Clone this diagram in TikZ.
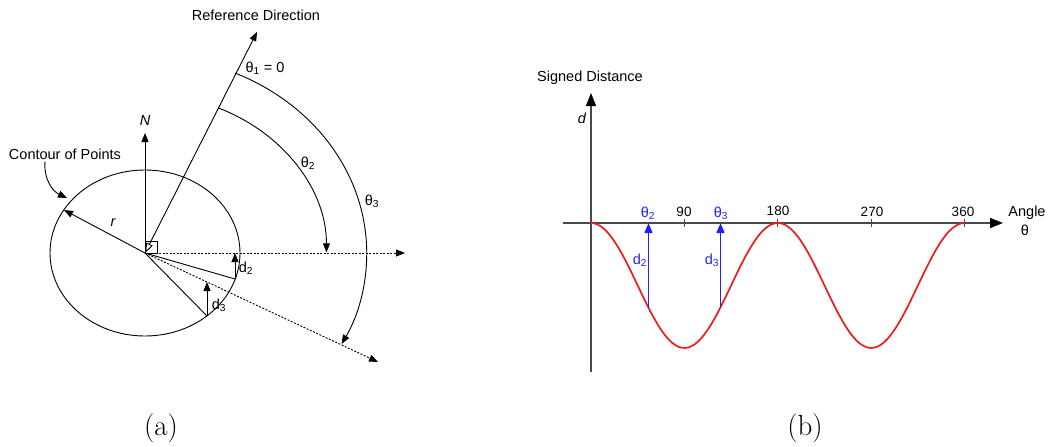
\documentclass[tikz,border=0pt]{standalone}
\usepackage{fontspec}
\usepackage{xcolor}
\usepackage{tikz}
\usetikzlibrary{arrows.meta,positioning,calc}
\newfontfamily\lblfont{Liberation Sans}
\definecolor{axisgray}{HTML}{4A4A4A}
\definecolor{curvered}{HTML}{EE1C1C}
\definecolor{markblue}{RGB}{32,32,255}

\begin{document}
\begin{tikzpicture}[
    x=1pt, y=-1pt,
    font=\lblfont\fontsize{14.5}{16}\selectfont,
    lbl/.style={inner sep=1pt},
    num/.style={inner sep=1pt, font=\lblfont\fontsize{13.5}{15}\selectfont},
    captext/.style={inner sep=0pt, font=\fontsize{29}{31}\selectfont},
    thin line/.style={line width=0.9pt},
    arr/.style={-{Triangle[length=9pt,width=7pt]}, line width=0.9pt},
    dotarr/.style={-{Triangle[length=9pt,width=7pt]}, line width=0.9pt, dash pattern=on 2pt off 1.5pt},
    axis/.style={-{Triangle[length=13pt,width=10pt,color=black]}, line width=1.4pt, draw=axisgray},
    blarr/.style={-{Triangle[length=10pt,width=8pt]}, line width=1.4pt, draw=markblue, fill=markblue}
]
\useasboundingbox (0,0) rectangle (1053,447);

% (a) contour and directions
\coordinate (O) at (145,253);
\coordinate (refend) at (257,32);
\coordinate (north) at (145,133);
\coordinate (east) at (405,253);
\coordinate (dir3) at (378,362);
\coordinate (rend) at (64,210);
\coordinate (p2) at (235,279);
\coordinate (q2) at (235,253);
\coordinate (p3) at (207,316);
\coordinate (q3) at (207,282);

\draw[thin line] (O) ellipse [x radius=95, y radius=83];
\draw[arr] (O) -- (north);
\draw[{Triangle[open,length=10pt,width=7pt]}-{Triangle[length=9pt,width=7pt]}, line width=0.9pt] (O) -- (refend);
\draw[thin line] (O) rectangle ++(12,-12);
\draw[dotarr] (O) -- (east);
\draw[dotarr] (O) -- (dir3);
\draw[arr] (O) -- (rend);
\draw[thin line] (O) -- (p2);
\draw[thin line] (O) -- (p3);
\draw[arr] (p2) -- (q2);
\draw[arr] (p3) -- (q3);

% angle arcs
\draw[arr] (218.5,108) arc[start angle=-66, end angle=0, x radius=182, y radius=158];
\draw[arr] (235,73) arc[start angle=-66, end angle=27.5, x radius=222, y radius=197];

\node[lbl] (reflbl) at (256,15) {Reference Direction};
\node[lbl] (nlbl) at (145,121) {\itshape N};
\node[lbl] (contlbl) at (65,154) {Contour of Points};
\draw[arr] ($(contlbl.south)+(-20,1)$) to[out=-95, in=155] (67,198);
\node[lbl] (rlbl) at (113,223) {\itshape r};
\node[lbl] (th1lbl) at (265,68) {θ\textsubscript{1} = 0};
\node[lbl] (th2lbl) at (308,163) {θ\textsubscript{2}};
\node[lbl] (th3lbl) at (372,201) {θ\textsubscript{3}};
\node[lbl] (d2lbl) at (246,268) {d\textsubscript{2}};
\node[lbl] (d3lbl) at (219,305) {d\textsubscript{3}};

% (b) signed distance plot
\coordinate (P) at (591,223);
\coordinate (ybot) at (591,372);
\coordinate (ytop) at (591,93);
\coordinate (xleft) at (563,223);
\coordinate (xright) at (1003,223);
\draw[axis] (ybot) -- (ytop);
\draw[axis] (xleft) -- (xright);
\foreach \a in {90,180,270,360}
  \draw[axisgray, line width=1.2pt] ({591+\a/90*93.4},219) -- ({591+\a/90*93.4},227);

\draw[curvered, line width=1.7pt, domain=0:360, samples=120, smooth]
  plot ({591+\x/90*93.4}, {223+62.5*(1-cos(2*\x))});

\coordinate (c2) at (648.5,{223+62.5*(1-cos(2*(648.5-591)/93.4*90))});
\coordinate (a2) at (648.5,223);
\coordinate (c3) at (720.5,{223+62.5*(1-cos(2*(720.5-591)/93.4*90))});
\coordinate (a3) at (720.5,223);
\draw[blarr] (c2) -- (a2);
\draw[blarr] (c3) -- (a3);

\node[lbl] (sdlbl) at (590,78) {Signed Distance};
\node[lbl] (dlbl) at (582,118) {\itshape d};
\node[lbl, text=markblue] (t2lbl) at (648,213) {θ\textsubscript{2}};
\node[lbl, text=markblue] (t3lbl) at (721,213) {θ\textsubscript{3}};
\node[num] (n90) at (684,212) {90};
\node[num] (n180) at (778,211) {180};
\node[num] (n270) at (872,212) {270};
\node[num] (n360) at (963,212) {360};
\node[lbl] (anglbl) at (1027,213) {Angle};
\node[lbl] (thlbl) at (1025,230) {θ};
\node[lbl, text=markblue] (bd2lbl) at (640,260) {d\textsubscript{2}};
\node[lbl, text=markblue] (bd3lbl) at (712,260) {d\textsubscript{3}};

\node[captext] (capa) at (161,428) {(a)};
\node[captext] (capb) at (805,428) {(b)};
\end{tikzpicture}
\end{document}
